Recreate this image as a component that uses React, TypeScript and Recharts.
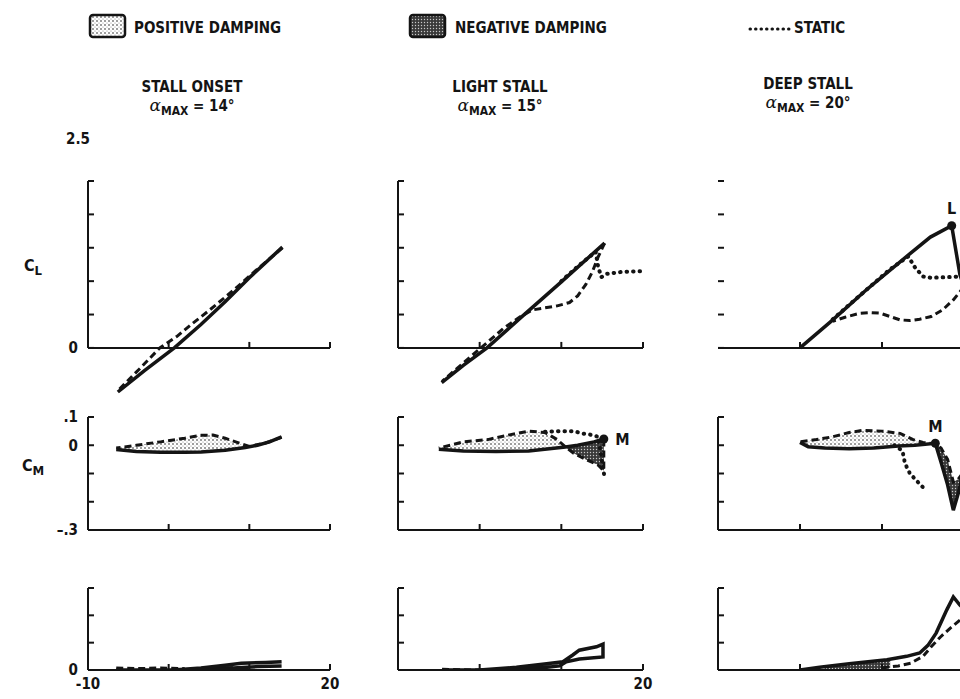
import React from 'react';
import { ComposedChart, Line, Area, XAxis, YAxis, ReferenceLine, ReferenceDot } from 'recharts';

type Pt = [number, number];
type Band = [number, number, number]; // alpha, lower, upper

// axes
const alphaTicks = [-10, 0, 10, 20];
const clTicks = [0, 0.5, 1, 1.5, 2, 2.5];
const cmTicks = [-0.3, -0.2, -0.1, 0, 0.1];
const cdTicks = [0, 0.4, 0.8, 1.2];

// stall onset, alpha max 14 deg
const clOnsetUp: Pt[] = [[-6.3, -0.66], [-3, -0.34], [0.7, 0], [4, 0.35], [7, 0.69], [10, 1.05], [14.1, 1.51]];
const clOnsetDown: Pt[] = [[14.1, 1.5], [11, 1.18], [8, 0.86], [5, 0.56], [3, 0.37], [1, 0.17], [-1.1, 0], [-3.5, -0.3], [-6.3, -0.64]];
const cmOnsetUp: Pt[] = [[-6.5, -0.015], [-4, -0.022], [-1, -0.025], [2, -0.025], [4, -0.024], [7, -0.018], [9.5, -0.008], [11, 0], [12.5, 0.012], [14, 0.03]];
const cmOnsetDown: Pt[] = [[14, 0.028], [12, 0.008], [10, -0.004], [8.5, 0.01], [7, 0.025], [5.5, 0.036], [4, 0.035], [2, 0.025], [-1, 0.012], [-4, 0], [-6.5, -0.01]];
const cmOnsetPos: Band[] = [[-6.5, -0.015, -0.01], [-4, -0.022, 0], [-1, -0.025, 0.012], [2, -0.025, 0.025], [4, -0.024, 0.035], [5.5, -0.022, 0.036], [7, -0.018, 0.025], [8.5, -0.012, 0.01], [9.5, -0.008, -0.006]];
const cdOnsetUp: Pt[] = [[-6.5, 0], [-2, 0], [1, 0.005], [4, 0.03], [7, 0.07], [9, 0.1], [12, 0.11], [14, 0.12]];
const cdOnsetDown: Pt[] = [[14, 0.06], [11, 0.05], [8, 0.03], [5, 0.01], [2, 0]];
const cdOnsetBase: Pt[] = [[-6.5, 0.03], [-4, 0.02], [-1, 0.03], [2, 0.02]];
const cdOnsetNeg: Band[] = [[2, 0, 0.01], [4, 0, 0.04], [6, 0.01, 0.06], [8, 0.03, 0.08]];

// light stall, alpha max 15 deg
const clLightUp: Pt[] = [[-4.65, -0.52], [-2, -0.26], [0.9, 0], [5, 0.45], [10, 0.99], [15.3, 1.57]];
const clLightDown: Pt[] = [[15.3, 1.57], [14.5, 1.36], [13.8, 1.14], [13, 0.95], [12, 0.78], [11, 0.68], [9.5, 0.63], [8, 0.6], [6.5, 0.57], [5, 0.47], [3, 0.3], [1, 0.09], [-1, -0.12], [-4.6, -0.5]];
const clLightStatic: Pt[] = [[10, 1.0], [12, 1.22], [14.2, 1.44], [14.5, 1.22], [14.9, 1.06], [15.6, 1.11], [17.5, 1.14], [20, 1.15]];
const cmLightUp: Pt[] = [[-5, -0.014], [-2, -0.02], [2, -0.022], [6, -0.02], [10.5, -0.006], [12, 0], [14, 0.012], [15.2, 0.022]];
const cmLightDown: Pt[] = [[15.2, 0.02], [15.2, -0.09], [14.5, -0.07], [13, -0.05], [11.5, -0.028], [10.5, -0.006], [9.5, 0.02], [8, 0.045], [6, 0.05], [3, 0.033], [1, 0.02], [-2, 0.012], [-5, -0.01]];
const cmLightStatic: Pt[] = [[8, 0.048], [10, 0.05], [11.5, 0.05], [12.5, 0.042], [13.5, 0.038], [14.5, 0.03], [15.3, -0.115]];
const cmLightPos: Band[] = [[-5, -0.014, -0.01], [-2, -0.02, 0.012], [1, -0.021, 0.02], [3, -0.022, 0.033], [6, -0.02, 0.05], [8, -0.015, 0.045], [9.5, -0.01, 0.02], [10.5, -0.006, -0.006]];
const cmLightNeg: Band[] = [[10.5, -0.006, -0.006], [11.5, -0.028, -0.002], [13, -0.05, 0.006], [14.5, -0.07, 0.016], [15.2, -0.09, 0.022]];
const cdLightLoop: Pt[] = [[-4.6, 0], [0, 0], [4.5, 0.04], [8.2, 0.09], [10.2, 0.12], [11.4, 0.22], [12.2, 0.29], [14.3, 0.34], [15.1, 0.38], [15.1, 0.19], [12.2, 0.16], [10.6, 0.12], [9.8, 0.06], [6, 0.01], [2, 0], [-4.6, 0]];
const cdLightBase: Pt[] = [[-4.6, 0.01], [-1, 0], [3, 0.01]];

// deep stall, alpha max 20 deg
const clDeepUp: Pt[] = [[0, 0], [4, 0.42], [8, 0.86], [13.2, 1.39], [15.9, 1.66], [18.5, 1.83], [19.5, 1.1], [20, 0.92]];
const clDeepDown: Pt[] = [[20, 0.92], [19.5, 0.84], [18.7, 0.72], [17.4, 0.57], [16, 0.47], [14.6, 0.43], [13.4, 0.41], [12.2, 0.42], [11, 0.47], [9.8, 0.52], [8.5, 0.53], [7.3, 0.52], [5.5, 0.46], [4, 0.4]];
const clDeepStatic: Pt[] = [[4, 0.43], [8, 0.86], [11, 1.18], [13.2, 1.37], [14, 1.21], [15, 1.07], [16, 1.05], [18, 1.06], [19.5, 1.07]];
const cmDeepUp: Pt[] = [[0, 0.01], [1, -0.005], [3, -0.01], [6, -0.012], [9, -0.01], [12, -0.003], [14, 0], [16.5, 0.007], [17.2, -0.06], [18, -0.14], [18.7, -0.23], [19.3, -0.17], [19.8, -0.11]];
const cmDeepDown: Pt[] = [[19.8, -0.1], [19.3, -0.12], [18.7, -0.13], [18, -0.05], [17.2, -0.01], [16.5, 0.005], [15, 0.01], [13.8, 0.02], [12.2, 0.042], [10, 0.05], [7.7, 0.053], [6, 0.045], [4, 0.03], [2, 0.02], [0, 0.012]];
const cmDeepStatic: Pt[] = [[11.5, 0], [12.5, -0.02], [12.8, -0.064], [13.4, -0.1], [14.3, -0.128], [15, -0.149]];
const cmDeepPos: Band[] = [[0, 0.01, 0.012], [1, -0.005, 0.016], [3, -0.01, 0.025], [6, -0.012, 0.045], [7.7, -0.011, 0.053], [10, -0.008, 0.05], [12.2, -0.002, 0.042], [13.8, 0, 0.02], [15, 0.003, 0.01], [16.5, 0.007, 0.007]];
const cmDeepNeg: Band[] = [[16.5, 0.007, 0.007], [17.2, -0.06, -0.01], [18, -0.14, -0.05], [18.7, -0.23, -0.13], [19.3, -0.17, -0.12], [19.8, -0.11, -0.1]];
const cdDeepUp: Pt[] = [[0, 0], [2.4, 0.04], [6, 0.09], [10.6, 0.15], [13, 0.2], [14.6, 0.25], [15.6, 0.36], [16.6, 0.54], [17.9, 0.88], [18.7, 1.07], [19.5, 0.95], [20, 0.9]];
const cdDeepDown: Pt[] = [[19.5, 0.73], [18.3, 0.61], [17.1, 0.48], [16, 0.34], [15, 0.2], [13.5, 0.1], [12, 0.06], [10, 0.03]];
const cdDeepNeg: Band[] = [[3, 0, 0.04], [6, 0, 0.09], [9, 0, 0.13], [11, 0.03, 0.15]];

const ink = '#141414';
const font = '"Liberation Sans Narrow", "DejaVu Sans Condensed", "Liberation Sans", Arial, sans-serif';

type Kind = 'solid' | 'dashed' | 'static';
type Trace = { pts: Pt[]; kind: Kind };
type Fill = { band: Band[]; kind: 'pos' | 'neg' };

const strokeFor: Record<Kind, object> = {
  solid: { strokeWidth: 3.5 },
  dashed: { strokeWidth: 3, strokeDasharray: '7 4' },
  static: { strokeWidth: 4, strokeDasharray: '0.5 6', strokeLinecap: 'round' },
};

const tickText = { fontFamily: font, fontSize: 15, fontWeight: 700, fill: ink };

interface PanelProps {
  x0: number;
  w: number;
  top: number;
  h: number;
  domain: [number, number];
  yTicks: number[];
  yAxisTop: number;
  yLabels?: Record<string, string>;
  xLabels?: Record<string, string>;
  axis: 'zero' | 'bottom';
  yAxisLine?: boolean;
  traces: Trace[];
  fills?: Fill[];
  marker?: { a: number; v: number; text: string; pos: 'top' | 'right' };
}

function Panel(p: PanelProps) {
  const yw = 40;
  const mt = 14;
  const mr = 14;
  const xh = p.axis === 'bottom' ? 28 : 0;
  const mb = p.axis === 'bottom' ? 0 : 10;
  const width = yw + p.w + mr;
  const height = mt + p.h + xh + mb;
  const tickH = (6 / p.h) * (p.domain[1] - p.domain[0]);
  return (
    <div style={{ position: 'absolute', left: p.x0 - yw, top: p.top - mt }}>
      <ComposedChart width={width} height={height} margin={{ top: mt, right: mr, bottom: mb, left: 0 }}>
        <XAxis
          type="number"
          dataKey="a"
          domain={[-10, 20]}
          ticks={alphaTicks}
          interval={0}
          allowDataOverflow
          hide={p.axis !== 'bottom'}
          height={xh}
          tickSize={-6}
          tickMargin={14}
          axisLine={{ stroke: ink, strokeWidth: 2 }}
          tickLine={{ stroke: ink, strokeWidth: 2 }}
          tick={tickText}
          tickFormatter={(v: number) => p.xLabels?.[String(v)] ?? ''}
        />
        <YAxis
          type="number"
          domain={p.domain}
          ticks={p.yTicks}
          interval={0}
          allowDataOverflow
          width={yw}
          axisLine={false}
          tickSize={-6}
          tickMargin={16}
          tickLine={{ stroke: ink, strokeWidth: 2 }}
          tick={tickText}
          tickFormatter={(v: number) => p.yLabels?.[String(v)] ?? ''}
        />
        {p.yAxisLine !== false && (
          <ReferenceLine
            segment={[{ x: -10, y: p.axis === 'zero' ? 0 : p.domain[0] }, { x: -10, y: p.yAxisTop }]}
            stroke={ink}
            strokeWidth={2}
          />
        )}
        {p.axis === 'zero' && (
          <ReferenceLine segment={[{ x: -10, y: 0 }, { x: 20, y: 0 }]} stroke={ink} strokeWidth={2} />
        )}
        {p.axis === 'zero' &&
          alphaTicks.slice(1).map((a) => (
            <ReferenceLine key={a} segment={[{ x: a, y: 0 }, { x: a, y: tickH }]} stroke={ink} strokeWidth={2} />
          ))}
        {(p.fills ?? []).map((f, i) => (
          <Area
            key={'f' + i}
            data={f.band.map(([a, lo, hi]) => ({ a, r: [lo, hi] }))}
            dataKey="r"
            type="linear"
            stroke="none"
            fill={`url(#${f.kind})`}
            fillOpacity={1}
            dot={false}
            activeDot={false}
            isAnimationActive={false}
          />
        ))}
        {p.traces.map((t, i) => (
          <Line
            key={'t' + i}
            data={t.pts.map(([a, v]) => ({ a, v }))}
            dataKey="v"
            type="linear"
            stroke={ink}
            dot={false}
            activeDot={false}
            isAnimationActive={false}
            {...strokeFor[t.kind]}
          />
        ))}
        {p.marker && (
          <ReferenceDot
            x={p.marker.a}
            y={p.marker.v}
            r={4.5}
            fill={ink}
            stroke="none"
            label={{ value: p.marker.text, position: p.marker.pos, offset: 7, ...tickText, fontSize: 16 }}
          />
        )}
      </ComposedChart>
    </div>
  );
}

const cols = [
  { x0: 88, w: 242 },
  { x0: 398, w: 245 },
  { x0: 718, w: 246 },
];

const clRow = { top: 181, h: 217, domain: [-0.75, 2.5] as [number, number], yTicks: clTicks, yAxisTop: 2.5, axis: 'zero' as const };
const cmRow = { top: 417, h: 113, domain: [-0.3, 0.1] as [number, number], yTicks: cmTicks, yAxisTop: 0.1, axis: 'bottom' as const };
const cdRow = { top: 588, h: 82, domain: [0, 1.2] as [number, number], yTicks: cdTicks, yAxisTop: 1.2, axis: 'bottom' as const };

function Title({ cx, top, name, amax }: { cx: number; top: number; name: string; amax: string }) {
  return (
    <div style={{ position: 'absolute', left: cx - 80, top, width: 160, textAlign: 'center', fontFamily: font, fontWeight: 700, fontSize: 15, color: ink, lineHeight: '18px' }}>
      <div>{name}</div>
      <div>
        <span style={{ fontStyle: 'italic', fontFamily: '"DejaVu Serif", serif', fontWeight: 400, fontSize: 17 }}>α</span>
        <sub style={{ fontSize: 12, verticalAlign: '-4px' }}>MAX</sub>
        {' = ' + amax}
      </div>
    </div>
  );
}

function Coef({ left, top, sub }: { left: number; top: number; sub: string }) {
  return (
    <div style={{ position: 'absolute', left, top, fontFamily: font, fontWeight: 700, fontSize: 16, color: ink }}>
      C<sub style={{ fontSize: 13, verticalAlign: '-4px' }}>{sub}</sub>
    </div>
  );
}

export default function App() {
  return (
    <div style={{ position: 'absolute', left: 0, top: 0, width: 960, height: 699, overflow: 'hidden', background: '#fff' }}>
      <svg width={960} height={50} style={{ position: 'absolute', left: 0, top: 0 }}>
        <defs>
          <pattern id="pos" width="4" height="4" patternUnits="userSpaceOnUse">
            <rect width="4" height="4" fill="#fff" />
            <circle cx="1" cy="1" r="0.8" fill="#222" />
            <circle cx="3" cy="3" r="0.6" fill="#888" />
          </pattern>
          <pattern id="neg" width="3" height="3" patternUnits="userSpaceOnUse">
            <rect width="3" height="3" fill="#3a3a3a" />
            <circle cx="1.5" cy="1.5" r="0.7" fill="#c8c8c8" />
          </pattern>
        </defs>
        <rect x={90} y={15} width={35} height={22} rx={3} fill="url(#pos)" stroke={ink} strokeWidth={2.5} />
        <text x={134} y={33} style={tickText}>POSITIVE DAMPING</text>
        <rect x={410} y={15} width={35} height={22} rx={3} fill="url(#neg)" stroke={ink} strokeWidth={2.5} />
        <text x={455} y={33} style={tickText}>NEGATIVE DAMPING</text>
        <line x1={750} y1={29} x2={790} y2={29} stroke={ink} strokeWidth={3} strokeDasharray="0.5 5" strokeLinecap="round" />
        <text x={794} y={33} style={tickText}>STATIC</text>
      </svg>

      <Title cx={192} top={78} name="STALL ONSET" amax="14°" />
      <Title cx={500} top={78} name="LIGHT STALL" amax="15°" />
      <Title cx={808} top={75} name="DEEP STALL" amax="20°" />

      <div style={{ position: 'absolute', left: 66, top: 130, fontFamily: font, fontWeight: 700, fontSize: 15, color: ink }}>2.5</div>

      <Coef left={24} top={256} sub="L" />
      <Coef left={22} top={456} sub="M" />

      <Panel {...cols[0]} {...clRow} yLabels={{ '0': '0' }}
        traces={[{ pts: clOnsetDown, kind: 'dashed' }, { pts: clOnsetUp, kind: 'solid' }]} />
      <Panel {...cols[1]} {...clRow}
        traces={[{ pts: clLightStatic, kind: 'static' }, { pts: clLightDown, kind: 'dashed' }, { pts: clLightUp, kind: 'solid' }]} />
      <Panel {...cols[2]} {...clRow} yAxisLine={false}
        traces={[{ pts: clDeepStatic, kind: 'static' }, { pts: clDeepDown, kind: 'dashed' }, { pts: clDeepUp, kind: 'solid' }]}
        marker={{ a: 18.5, v: 1.83, text: 'L', pos: 'top' }} />

      <Panel {...cols[0]} {...cmRow} yLabels={{ '0.1': '.1', '0': '0', '-0.3': '–.3' }}
        fills={[{ band: cmOnsetPos, kind: 'pos' }]}
        traces={[{ pts: cmOnsetDown, kind: 'dashed' }, { pts: cmOnsetUp, kind: 'solid' }]} />
      <Panel {...cols[1]} {...cmRow}
        fills={[{ band: cmLightPos, kind: 'pos' }, { band: cmLightNeg, kind: 'neg' }]}
        traces={[{ pts: cmLightStatic, kind: 'static' }, { pts: cmLightDown, kind: 'dashed' }, { pts: cmLightUp, kind: 'solid' }]}
        marker={{ a: 15.2, v: 0.022, text: 'M', pos: 'right' }} />
      <Panel {...cols[2]} {...cmRow}
        fills={[{ band: cmDeepPos, kind: 'pos' }, { band: cmDeepNeg, kind: 'neg' }]}
        traces={[{ pts: cmDeepStatic, kind: 'static' }, { pts: cmDeepDown, kind: 'dashed' }, { pts: cmDeepUp, kind: 'solid' }]}
        marker={{ a: 16.5, v: 0.007, text: 'M', pos: 'top' }} />

      <Panel {...cols[0]} {...cdRow} yLabels={{ '0': '0' }} xLabels={{ '-10': '-10', '20': '20' }}
        fills={[{ band: cdOnsetNeg, kind: 'neg' }]}
        traces={[{ pts: cdOnsetBase, kind: 'dashed' }, { pts: cdOnsetDown, kind: 'solid' }, { pts: cdOnsetUp, kind: 'solid' }]} />
      <Panel {...cols[1]} {...cdRow} xLabels={{ '20': '20' }}
        traces={[{ pts: cdLightBase, kind: 'dashed' }, { pts: cdLightLoop, kind: 'solid' }]} />
      <Panel {...cols[2]} {...cdRow}
        fills={[{ band: cdDeepNeg, kind: 'neg' }]}
        traces={[{ pts: cdDeepDown, kind: 'dashed' }, { pts: cdDeepUp, kind: 'solid' }]} />
    </div>
  );
}
